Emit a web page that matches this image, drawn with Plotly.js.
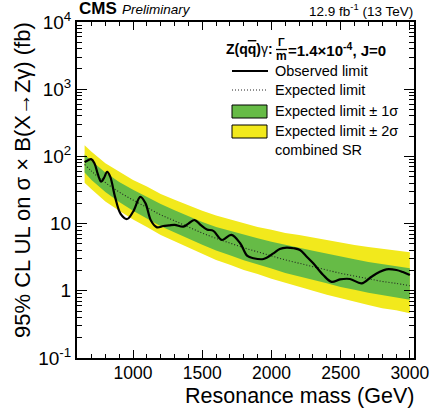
<!DOCTYPE html>
<html><head><meta charset="utf-8">
<script src="https://cdn.plot.ly/plotly-3.0.1.min.js"></script>
<style>html,body{margin:0;padding:0;background:#fff}</style>
</head><body><div id="chart" style="width:431px;height:410px"></div>
<script>
// ---- data ----
const mass = [650,700,800,900,1000,1100,1200,1300,1400,1500,1600,1700,1800,1900,2000,2100,2200,2300,2400,2500,2600,2700,2800,2900,3000];
const expected = [75.9,60.3,40.7,29.5,22.4,17.4,13.5,11.0,8.91,7.24,6.03,5.13,4.37,3.80,3.31,2.88,2.57,2.29,2.04,1.82,1.66,1.51,1.38,1.29,1.19];
const oneSigmaLo = [57.5,44.7,29.5,20.9,15.5,11.9,9.12,7.41,5.96,4.84,3.98,3.39,2.85,2.45,2.14,1.84,1.62,1.45,1.29,1.14,1.04,0.933,0.851,0.794,0.733];
const oneSigmaHi = [107,85.1,57.5,41.7,32.0,24.8,19.5,15.8,12.9,10.6,8.91,7.76,6.76,6.03,5.37,4.79,4.37,3.94,3.55,3.20,2.95,2.69,2.48,2.34,2.16];
const twoSigmaLo = [40.7,32.4,21.4,15.5,11.5,8.91,6.76,5.50,4.37,3.55,2.88,2.45,2.04,1.78,1.51,1.29,1.15,1.00,0.871,0.759,0.692,0.617,0.550,0.513,0.462];
const twoSigmaHi = [146,117,79.4,58.9,44.7,35.5,27.5,22.6,18.6,15.5,13.2,11.5,10.0,8.91,8.13,7.24,6.76,6.17,5.62,5.13,4.79,4.47,4.17,3.98,3.76];
const obsMass = [650,675,697,720,745,769,790,813,835,870,910,957,1000,1053,1090,1130,1173,1218,1260,1300,1363,1400,1445,1490,1534,1580,1642,1710,1774,1826,1870,1942,2014,2060,2110,2160,2206,2250,2302,2374,2435,2495,2567,2651,2723,2780,2831,2903,2950,3000];
const observed = [82,88,91,80,55,42,48,59,50,25,14,11.7,15,25,20,11,8.8,9.2,9.4,9.6,9.0,10.0,11.3,9.5,8.2,7.8,5.7,6.8,5.1,3.3,3.05,2.97,3.6,4.2,4.4,4.3,4.05,3.3,2.57,1.72,1.36,1.48,1.50,1.29,1.62,1.9,2.09,2.04,1.9,1.72];
const xTicks = [1000,1500,2000,2500,3000];
const yTicks = [0.1,1,10,100,1000,10000];
const yTickText = ['10<sup>-1</sup>','1','10','10<sup>2</sup>','10<sup>3</sup>','10<sup>4</sup>'];

// ---- styling ----
const GREEN = '#66bb46', YELLOW = '#f2e91c';
const FONT = 'Liberation Sans, Arial, Helvetica, sans-serif';
const W = 431, H = 410, L = 77, R = 17, T = 22, B = 52;
const pw = W - L - R, ph = H - T - B;
const px = p => (p - L) / pw;
const py = p => (H - B - p) / ph;

const rev = a => a.slice().reverse();
const traces = [
  {x: mass.concat(rev(mass)), y: twoSigmaHi.concat(rev(twoSigmaLo)), fill:'toself', fillcolor:YELLOW,
   line:{width:0, color:YELLOW}, mode:'lines', hoverinfo:'skip', name:'Expected limit ± 2σ'},
  {x: mass.concat(rev(mass)), y: oneSigmaHi.concat(rev(oneSigmaLo)), fill:'toself', fillcolor:GREEN,
   line:{width:0, color:GREEN}, mode:'lines', hoverinfo:'skip', name:'Expected limit ± 1σ'},
  {x: mass, y: expected, mode:'lines', line:{color:'#222', width:1.1, dash:'1px,2px', shape:'spline'}, name:'Expected limit'},
  {x: obsMass, y: observed, mode:'lines', line:{color:'#000', width:2.2, shape:'spline', smoothing:1}, name:'Observed limit'}
];

const minorY = [];
for (let n = -1; n <= 3; n++) for (let k = 2; k <= 9; k++) minorY.push(k * Math.pow(10, n));

const ann = (x, y, text, opts) => Object.assign({xref:'paper', yref:'paper', x:px(x), y:py(y), text, showarrow:false,
  xanchor:'left', yanchor:'middle', font:{family:FONT, size:14.5, color:'#000'}}, opts || {});

const annotations = [
  ann(77, 9, '<b>CMS</b>', {font:{family:FONT, size:17, color:'#000'}}),
  ann(120, 10, '<i>Preliminary</i>', {font:{family:FONT, size:13.5, color:'#000'}}),
  ann(415, 10, '12.9 fb<sup>-1</sup> (13 TeV)', {xanchor:'right', font:{family:FONT, size:13.5, color:'#000'}}),
  ann(415, 409, 'Resonance mass (GeV)', {xanchor:'right', yanchor:'bottom', borderpad:0, font:{family:FONT, size:21.5, color:'#000'}}),
  ann(22, 20, '95% CL UL on σ × B(X→Zγ) (fb)', {xanchor:'center', yanchor:'top', textangle:-90, font:{family:FONT, size:22, color:'#000'}}),
  // legend header
  ann(275, 49, '<b>Z(q<span style="text-decoration:overline">q</span>)</b>γ<b>:</b>', {xanchor:'right', font:{family:FONT, size:14, color:'#000'}}),
  ann(281.5, 42, '<b>Γ</b>', {xanchor:'center', font:{family:FONT, size:11, color:'#000'}}),
  ann(281.5, 56, '<b>m</b>', {xanchor:'center', font:{family:FONT, size:12, color:'#000'}}),
  ann(286, 49, '<b>=1.4×10<sup>-4</sup>, J=0</b>', {font:{family:FONT, size:15, color:'#000'}}),
  ann(273, 71, 'Observed limit'),
  ann(273, 90, 'Expected limit'),
  ann(273, 111, 'Expected limit ± 1σ'),
  ann(273, 131, 'Expected limit ± 2σ'),
  ann(273, 150, 'combined SR')
];

const shapes = [
  {type:'line', xref:'paper', yref:'paper', x0:px(276), x1:px(287), y0:py(49.5), y1:py(49.5), line:{color:'#000', width:1.3}},
  {type:'line', xref:'paper', yref:'paper', x0:px(232), x1:px(268), y0:py(71), y1:py(71), line:{color:'#000', width:2}},
  {type:'line', xref:'paper', yref:'paper', x0:px(232), x1:px(268), y0:py(90), y1:py(90), line:{color:'#222', width:1, dash:'1px,2px'}},
  {type:'rect', xref:'paper', yref:'paper', x0:px(232), x1:px(267), y0:py(118), y1:py(105), fillcolor:GREEN, line:{color:'#000', width:1}},
  {type:'rect', xref:'paper', yref:'paper', x0:px(232), x1:px(267), y0:py(138), y1:py(125), fillcolor:YELLOW, line:{color:'#000', width:1}}
];

const layout = {
  width:W, height:H, margin:{l:L, r:R, t:T, b:B, pad:0},
  paper_bgcolor:'#fff', plot_bgcolor:'#fff', showlegend:false,
  font:{family:FONT, color:'#000'},
  xaxis:{range:[595,3030], showgrid:false, zeroline:false, showline:true, linecolor:'#000', linewidth:2, mirror:'allticks',
    ticks:'inside', ticklen:8, tickwidth:1, tickcolor:'#000', tickvals:xTicks, ticktext:xTicks.map(String),
    ticklabelstandoff:-2,
    tickfont:{family:FONT, size:17.5, color:'#000'},
    minor:{dtick:100, tick0:0, ticks:'inside', ticklen:4, tickwidth:1, tickcolor:'#000', showgrid:false}},
  yaxis:{type:'log', range:[-1,4], showgrid:false, zeroline:false, showline:true, linecolor:'#000', linewidth:2, mirror:'allticks',
    ticks:'inside', ticklen:10, tickwidth:1, tickcolor:'#000', tickvals:yTicks, ticktext:yTickText,
    tickfont:{family:FONT, size:19, color:'#000'},
    minor:{tickvals:minorY, ticks:'inside', ticklen:5, tickwidth:1, tickcolor:'#000', showgrid:false}},
  annotations, shapes
};

Plotly.newPlot('chart', traces, layout, {staticPlot:true, displayModeBar:false});
</script></body></html>
